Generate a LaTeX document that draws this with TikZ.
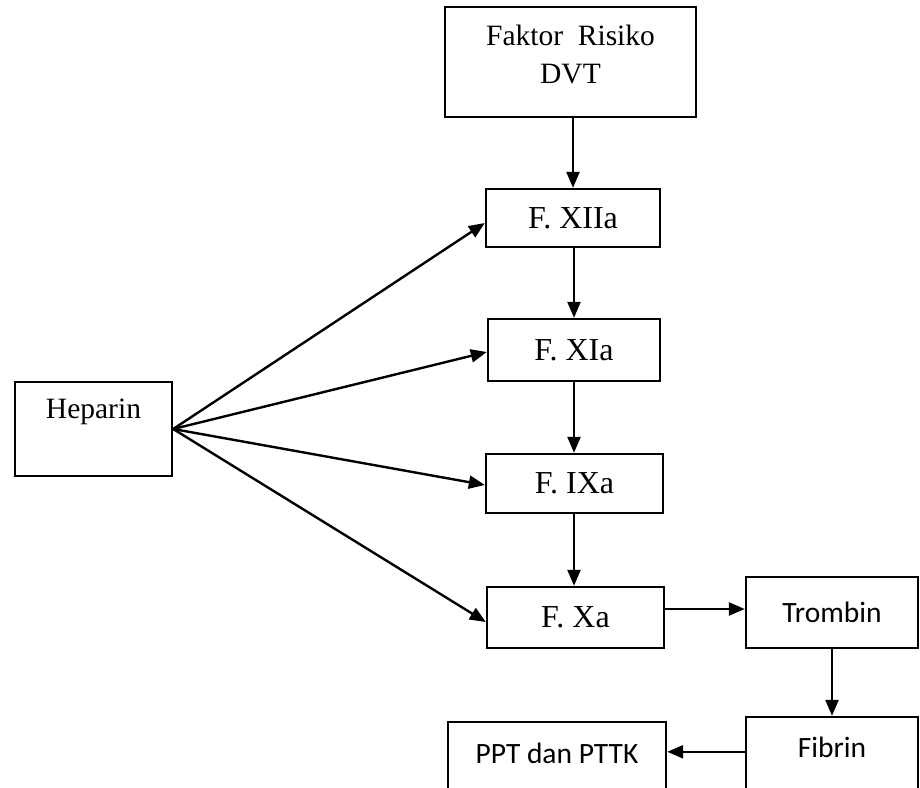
\documentclass[tikz,border=0pt]{standalone}
\usepackage{fontspec}
\setmainfont{Liberation Serif}
\newfontfamily\calfont{Carlito}
\usetikzlibrary{arrows.meta}
\tikzset{
  box/.style={draw, line width=2.4pt, inner sep=0pt, fill=white},
  arr/.style={line width=2.4pt, -{Triangle[length=16pt,width=13pt]}},
  serifbig/.style={font=\fontsize{32}{38}\selectfont},
  serifmid/.style={font=\fontsize{29.5}{38}\selectfont},
  sanstext/.style={font=\calfont\fontsize{29.5}{35}\selectfont},
}
\begin{document}
\begin{tikzpicture}[x=1pt,y=1pt]
\useasboundingbox (0,0) rectangle (920,-787);
\clip (0,0) rectangle (920,-787);
% boxes
\node[box, minimum width=251pt, minimum height=110pt] (fak) at (570.5,-62) {};
\node[serifmid, align=center] (faktxt) at (570.5,-54) {Faktor\ \ Risiko\\DVT};
\node[box, serifbig, minimum width=174pt, minimum height=58pt] (f12) at (573,-218) {F. XIIa};
\node[box, serifbig, minimum width=172pt, minimum height=62pt] (f11) at (574,-350) {F. XIa};
\node[box, serifbig, minimum width=177pt, minimum height=59pt] (f9) at (574.5,-483.5) {F. IXa};
\node[box, serifbig, minimum width=177pt, minimum height=61pt] (f10) at (575.5,-617.5) {F. Xa};
\node[box, minimum width=157pt, minimum height=94pt] (hep) at (93.5,-429) {};
\node[serifmid] (heptxt) at (93.5,-412) {Heparin};
\node[box, sanstext, minimum width=172pt, minimum height=71pt] (trom) at (832,-612.5) {Trombin};
\node[box, minimum width=172pt, minimum height=90pt] (fib) at (832,-762) {};
\node[sanstext] (fibtxt) at (832,-747) {Fibrin};
\node[box, minimum width=218pt, minimum height=90pt] (ppt) at (557,-767) {};
\node[sanstext] (ppttxt) at (557,-753) {PPT dan PTTK};
% vertical chain
\draw[arr] (f12.north |- fak.south) -- (f12.north);
\draw[arr] ([xshift=1pt]f12.south) -- (f11.north);
\draw[arr] (f11.south) -- (f11.south |- f9.north);
\draw[arr] (f11.south |- f9.south) -- (f11.south |- f10.north);
% heparin fan
\draw[arr] (hep.east) -- ([yshift=-5pt]f12.west);
\draw[arr] (hep.east) -- ([yshift=-2pt]f11.west);
\draw[arr] (hep.east) -- ([yshift=-1.5pt]f9.west);
\draw[arr] (hep.east) -- ([yshift=-4.5pt]f10.west);
% right side
\draw[arr] ([yshift=8.5pt]f10.east) -- ([yshift=3.5pt]trom.west);
\draw[arr] (trom.south) -- (fib.north);
\draw[arr] ([yshift=-36pt]fib.north west) -- ([yshift=-31pt]ppt.north east);
\end{tikzpicture}
\end{document}
